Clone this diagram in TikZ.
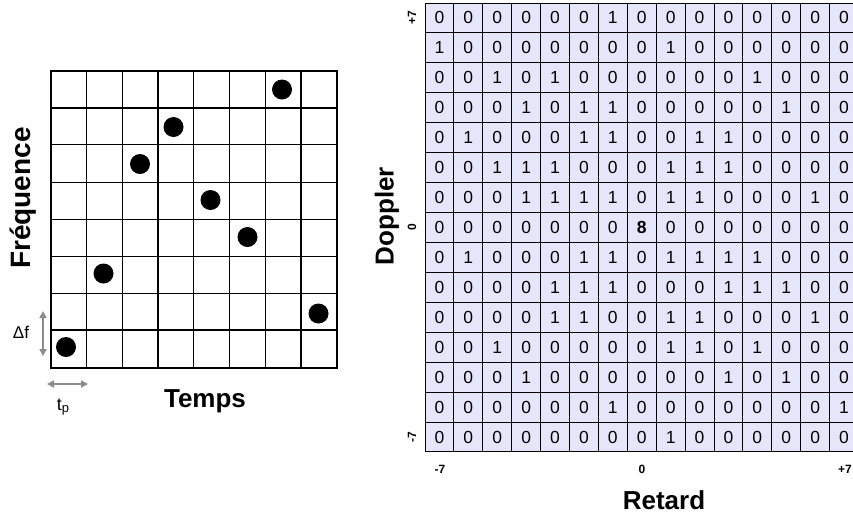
\documentclass[tikz,border=0pt]{standalone}
\usepackage{fontspec}
\setmainfont{Liberation Sans}
\usetikzlibrary{arrows.meta}
\definecolor{cellfill}{RGB}{230,230,250}
\definecolor{arrowgray}{RGB}{140,140,140}
\begin{document}
\begin{tikzpicture}[x=1pt,y=-1pt,
  thingrid/.style={line width=1pt, black},
  thickgrid/.style={line width=2pt, black},
  matline/.style={line width=1pt, black},
  dot/.style={circle, fill=black, inner sep=0pt, minimum size=20pt},
  cell/.style={font=\fontsize{17.5}{17.5}\selectfont, inner sep=0pt},
  axislabel/.style={font=\fontsize{26}{26}\selectfont\bfseries, inner sep=0pt},
  ticklabel/.style={font=\fontsize{12}{12}\selectfont\bfseries, inner sep=0pt},
  smalllabel/.style={font=\fontsize{17}{17}\selectfont, inner sep=0pt},
  grayarrow/.style={arrowgray, line width=1.6pt, {Triangle[length=7pt,width=7pt]}-{Triangle[length=7pt,width=7pt]}}
]
\useasboundingbox (0,0) rectangle (853,515);
\clip (0,0) rectangle (853,515);

% ---------- left time-frequency grid ----------
\foreach \i in {1,2,4,5,6} {
  \draw[thingrid] ({50.5+\i*35.8},70.7) -- ({50.5+\i*35.8},367.5);
}
\foreach \i in {2,3,4,5,6} {
  \draw[thingrid] (50.5,{70.7+\i*37.1}) -- (337,{70.7+\i*37.1});
}
\foreach \i in {3,7} {
  \draw[thickgrid] ({50.5+\i*35.8},70.7) -- ({50.5+\i*35.8},367.5);
}
\foreach \i in {1,7} {
  \draw[thickgrid] (50.5,{70.7+\i*37.1}) -- (337,{70.7+\i*37.1});
}
\draw[thickgrid] (50.5,70.7) rectangle (337,367.5);

\node[dot] (d1) at (66,347) {};
\node[dot] (d2) at (103.5,273.5) {};
\node[dot] (d3) at (140,164) {};
\node[dot] (d4) at (173.5,127) {};
\node[dot] (d5) at (210.5,200) {};
\node[dot] (d6) at (247.5,237) {};
\node[dot] (d7) at (282,89.5) {};
\node[dot] (d8) at (318.5,313.5) {};

\node[axislabel, font=\fontsize{28}{28}\selectfont\bfseries, rotate=90] (freq) at (23,198) {Fréquence};
\node[axislabel] (temps) at (205,401) {Temps};

\coordinate (dfa) at (43,311);
\coordinate (dfb) at (43,356);
\draw[grayarrow] (dfa) -- (dfb);
\node[smalllabel] (dflabel) at (21,332) {Δf};

\coordinate (tpa) at (47,384);
\coordinate (tpb) at (88,384);
\draw[grayarrow] (tpa) -- (tpb);
\node[smalllabel, font=\fontsize{18}{18}\selectfont] (tplabel) at (63,407) {t\raisebox{-2pt}{\fontsize{13}{13}\selectfont p}};

% ---------- right ambiguity matrix ----------
\fill[cellfill] (425,3) rectangle (859,452);
\foreach \rowvals [count=\r] in {
  {0,0,0,0,0,0,1,0,0,0,0,0,0,0,0},
  {1,0,0,0,0,0,0,0,1,0,0,0,0,0,0},
  {0,0,1,0,1,0,0,0,0,0,0,1,0,0,0},
  {0,0,0,1,0,1,1,0,0,0,0,0,1,0,0},
  {0,1,0,0,0,1,1,0,0,1,1,0,0,0,0},
  {0,0,1,1,1,0,0,0,1,1,1,0,0,0,0},
  {0,0,0,1,1,1,1,0,1,1,0,0,0,1,0},
  {0,0,0,0,0,0,0,8,0,0,0,0,0,0,0},
  {0,1,0,0,0,1,1,0,1,1,1,1,0,0,0},
  {0,0,0,0,1,1,1,0,0,0,1,1,1,0,0},
  {0,0,0,0,1,1,0,0,1,1,0,0,0,1,0},
  {0,0,1,0,0,0,0,0,1,1,0,1,0,0,0},
  {0,0,0,1,0,0,0,0,0,0,1,0,1,0,0},
  {0,0,0,0,0,0,1,0,0,0,0,0,0,0,1},
  {0,0,0,0,0,0,0,0,1,0,0,0,0,0,0}} {
  \foreach \v [count=\c] in \rowvals {
    \node[cell] (m-\r-\c) at ({425+(\c-0.5)*28.9},{3+(\r-0.5)*29.93}) {\ifnum\v=8 \bfseries\fi\v};
  }
}
\foreach \c in {0,...,15} {
  \draw[matline] ({425+\c*28.9},3) -- ({425+\c*28.9},452);
}
\foreach \r in {0,...,15} {
  \draw[matline] (425,{3+\r*29.93}) -- (860,{3+\r*29.93});
}

\node[ticklabel, rotate=90] (dp7) at (412,18) {+7};
\node[ticklabel, rotate=90] (dp0) at (412,227) {0};
\node[ticklabel, rotate=90] (dm7) at (412,437) {-7};
\node[axislabel, rotate=90] (doppler) at (387,216) {Doppler};

\node[ticklabel] (rm7) at (440,469) {-7};
\node[ticklabel] (r0) at (642,469) {0};
\node[ticklabel] (rp7) at (845,469) {+7};
\node[axislabel] (retard) at (664,500) {Retard};
\end{tikzpicture}
\end{document}
